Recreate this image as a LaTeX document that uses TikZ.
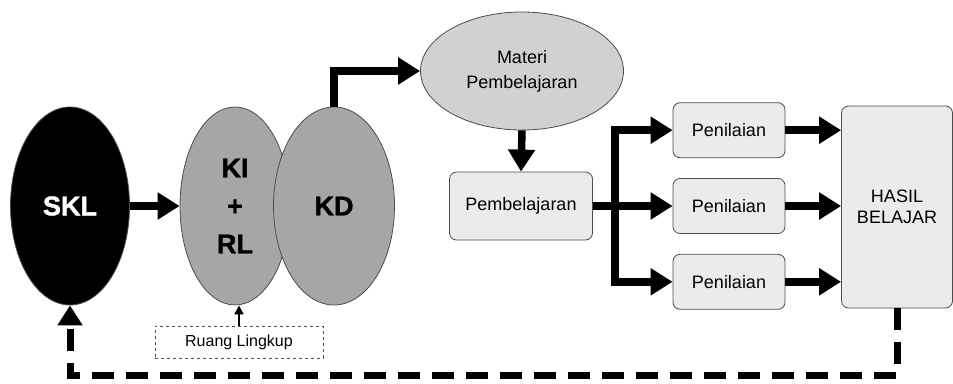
\documentclass[tikz,border=0pt]{standalone}
\usepackage{fontspec}
\setmainfont{Liberation Sans}
\newfontfamily\heavyfont[BoldFeatures={FakeBold=1.5}]{Liberation Sans}
\usetikzlibrary{shapes.geometric,arrows.meta,positioning,calc}

\begin{document}
\begin{tikzpicture}[x=1pt, y=-1pt,
  oval/.style={draw=black!70, ellipse, inner sep=0pt, line width=0.8pt},
  box/.style={draw=black!70, rounded corners=7pt, fill=black!8, align=center, font=\fontsize{18}{21}\selectfont, inner sep=0pt, line width=0.8pt},
  big/.style={font=\fontsize{27}{38}\selectfont\heavyfont\bfseries},
  arr/.style={-{Triangle[length=22pt,width=26pt]}, line width=7.5pt},
  fbarr/.style={-{Triangle[length=20pt,width=24pt]}, line width=7pt, dash pattern=on 22pt off 12pt}
]
\useasboundingbox (0,0) rectangle (953,383);
% left part
\node[oval, fill=black, minimum width=119pt, minimum height=198pt, big, text=white] (skl) at (70,206) {SKL};
\node[oval, fill=black!35, minimum width=110pt, minimum height=198pt, big, align=center] (ki) at (235,206) {KI\\+\\RL};
\node[oval, fill=black!35, minimum width=121pt, minimum height=198pt, big] (kd) at (334,206) {KD};
\node[draw=black!70, dashed, minimum width=168pt, minimum height=32pt, font=\fontsize{16}{18}\selectfont, inner sep=0pt] (ruang) at (239,342) {Ruang Lingkup};
% materi and pembelajaran
\node[oval, fill=black!18, minimum width=203pt, minimum height=118pt, align=center, font=\fontsize{18}{25}\selectfont] (materi) at (522,71) {Materi\\Pembelajaran};
\node[box, minimum width=143pt, minimum height=68pt] (pemb) at (521,206) {Pembelajaran};
% penilaian
\node[box, minimum width=112pt, minimum height=55pt] (pen2) at (729,206) {Penilaian};
\node[box, minimum width=112pt, minimum height=55pt, above=20pt of pen2] (pen1) {Penilaian};
\node[box, minimum width=112pt, minimum height=55pt, below=20pt of pen2] (pen3) {Penilaian};
\node[box, minimum width=111pt, minimum height=202pt] (hasil) at (897,207) {HASIL\\BELAJAR};
% connectors
\draw[arr] (skl.east) -- (ki.west);
\draw[arr] (kd.north) |- (materi.west);
\draw[arr] (materi.south) -- (pemb.north);
\draw[-{Triangle[length=9pt,width=9pt]}, line width=2pt] (ruang.north) -- (ruang.north |- ki.south);
\draw[line width=7.5pt] (pemb.east) -- ++(22,0) coordinate (br);
\draw[line width=7.5pt] ($(br |- pen1)+(0,-3.75)$) -- ($(br |- pen3)+(0,3.75)$);
\foreach \p in {pen1,pen2,pen3} {
  \draw[arr] ($(br |- \p)+(-3.75,0)$) -- (\p.west);
  \draw[arr] (\p.east) -- (\p.east -| hasil.west);
}
\coordinate (back) at (0,375);
\draw[fbarr] (hasil.south) -- (hasil.south |- back) -- (skl.south |- back) -- (skl.south);
\end{tikzpicture}
\end{document}
